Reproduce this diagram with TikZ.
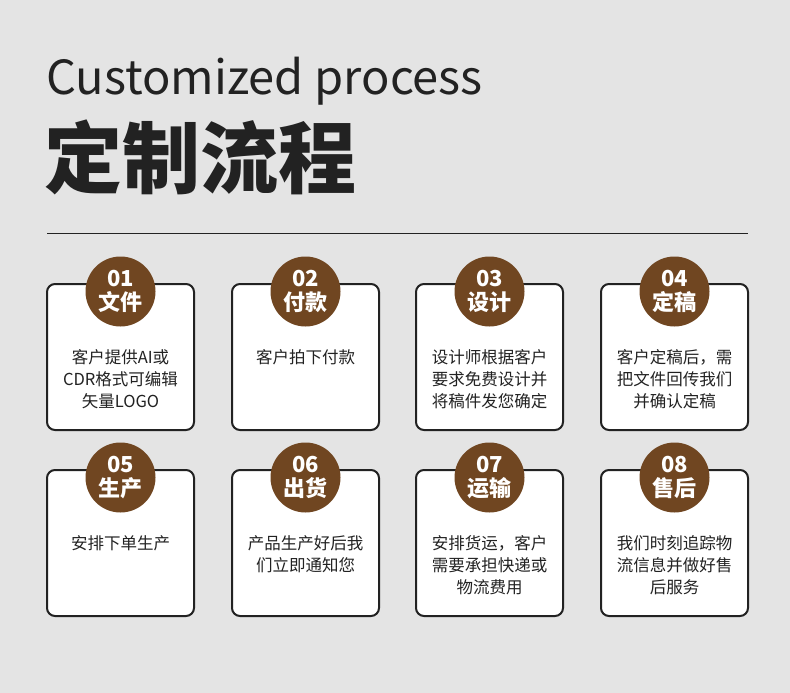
\documentclass[tikz,border=0pt]{standalone}
\usepackage{fontspec}
\setmainfont{Noto Sans CJK SC}
\definecolor{bgc}{HTML}{E4E4E4}
\definecolor{brownc}{RGB}{112,70,33}
\definecolor{inkc}{HTML}{222222}
\tikzset{
  card/.style={draw=inkc, line width=2pt, fill=white, rounded corners=8pt},
  badge/.style={circle, fill=brownc, minimum size=70pt, inner sep=0pt},
  badgetext/.style={text=white, align=center, inner sep=0pt, font=\fontsize{22}{24}\selectfont\bfseries},
  bodytext/.style={text=inkc, align=center, inner sep=0pt, anchor=north, font=\fontsize{16.5}{22}\selectfont},
}
\begin{document}
\begin{tikzpicture}[x=1pt,y=-1pt]
\fill[bgc] (0,0) rectangle (790,693);
\useasboundingbox (0,0) rectangle (790,693);
\node[anchor=base west, inner sep=0pt, text=inkc, font=\fontsize{47}{52}\selectfont] (en) at (46,95) {Customized process};
\node[anchor=base west, inner sep=0pt, text=inkc, font=\fontsize{78}{80}\selectfont\bfseries] (zh) at (44,187) {定制流程};
\coordinate (l1) at (47,233);
\coordinate (l2) at (748,233);
\draw[inkc, line width=1pt] (l1) -- (l2);
% cards
\foreach \i/\cx/\cy/\num/\title/\body in {
  1/120.5/284/01/文件/{客户提供AI或\\CDR格式可编辑\\矢量LOGO},
  2/305.5/284/02/付款/{客户拍下付款},
  3/489.5/284/03/设计/{设计师根据客户\\要求免费设计并\\将稿件发您确定},
  4/674.5/284/04/定稿/{客户定稿后，需\\把文件回传我们\\并确认定稿},
  5/120.5/470/05/生产/{安排下单生产},
  6/305.5/470/06/出货/{产品生产好后我\\们立即通知您},
  7/489.5/470/07/运输/{安排货运，客户\\需要承担快递或\\物流费用},
  8/674.5/470/08/售后/{我们时刻追踪物\\流信息并做好售\\后服务}}{
  \draw[card] (\cx-73.5,\cy) rectangle (\cx+73.5,\cy+146);
  \node[badge] (b\i) at (\cx,\cy+7.5) {};
  \node[badgetext] (t\i) at (b\i) {\num\\\title};
  \node[bodytext] (d\i) at (\cx,\cy+65) {\body};
}
\end{tikzpicture}
\end{document}
